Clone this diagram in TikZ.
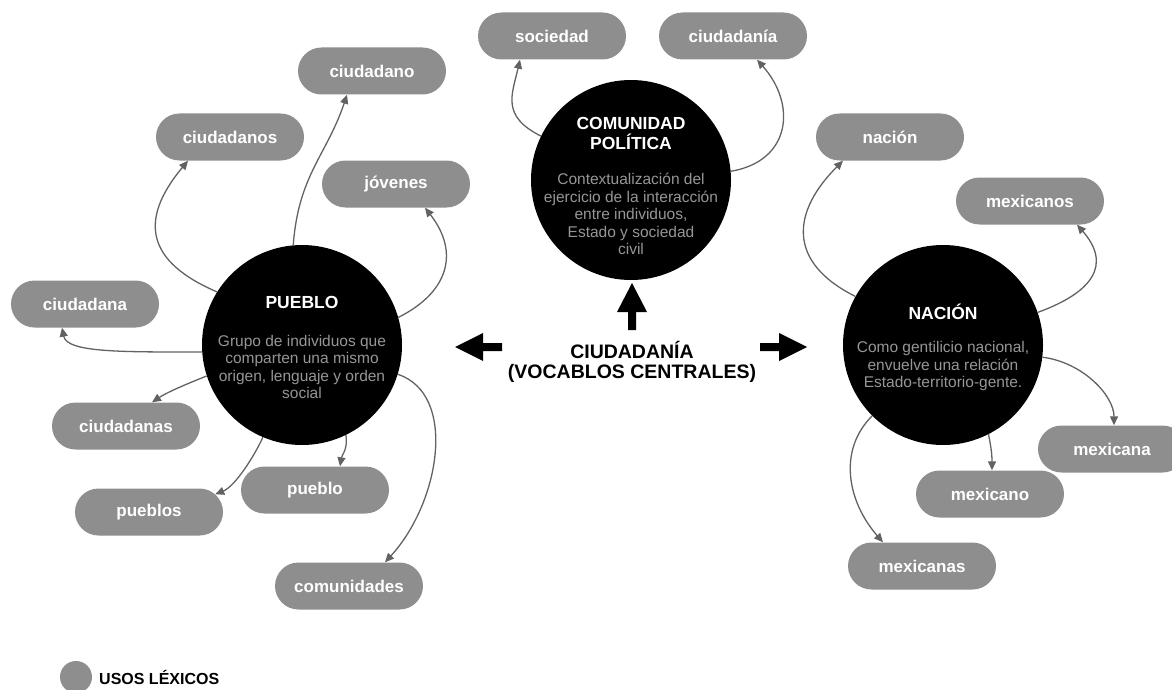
\documentclass[tikz,border=0pt]{standalone}
\usepackage{fontspec}
\setmainfont{Liberation Sans}
\usetikzlibrary{arrows.meta,shapes.misc}
\definecolor{pillgray}{RGB}{142,142,142}
\definecolor{linegray}{RGB}{98,98,98}
\definecolor{bodygray}{RGB}{150,150,150}
\begin{document}
\begin{tikzpicture}[x=1pt,y=-1pt,
  pill/.style={rounded rectangle, fill=pillgray, minimum width=148pt, minimum height=47pt, inner sep=0pt, text=white, font=\fontsize{17}{20}\selectfont\bfseries},
  hub/.style={circle, fill=black, minimum size=200pt, inner sep=0pt},
  ttl/.style={text=white, font=\fontsize{17.5}{20}\selectfont\bfseries, align=center, inner sep=0pt},
  body/.style={text=bodygray, font=\fontsize{15.5}{17.5}\selectfont, align=center, inner sep=0pt},
  conn/.style={draw=linegray, line width=1.3pt, -{Triangle[length=9pt,width=8pt]}},
  blockarrow/.style={fill=black}
]
\useasboundingbox (0,0) rectangle (1172,690);

% hubs
\node[hub] (P) at (302,345) {};
\node[hub] (C) at (631,180) {};
\node[hub] (N) at (943,345) {};

\node[ttl] (Pt) at (302,302) {PUEBLO};
\node[body] (Pb) at (302,367) {Grupo de individuos que\\comparten una mismo\\origen, lenguaje y orden\\social};
\node[ttl] (Ct) at (631,133) {COMUNIDAD\\POLÍTICA};
\node[body] (Cb) at (631,214) {Contextualización del\\ejercicio de la interacción\\entre individuos,\\Estado y sociedad\\civil};
\node[ttl] (Nt) at (943,312) {NACIÓN};
\node[body] (Nb) at (943,366) {Como gentilicio nacional,\\envuelve una relación\\Estado-territorio-gente.};

% pills
\node[pill] (ciudadano) at (372,71) {ciudadano};
\node[pill] (ciudadanos) at (230,137) {ciudadanos};
\node[pill] (jovenes) at (396,184) {jóvenes};
\node[pill] (ciudadana) at (85,304) {ciudadana};
\node[pill] (ciudadanas) at (126,426) {ciudadanas};
\node[pill] (pueblos) at (149,512) {pueblos};
\node[pill] (pueblo) at (315,490) {pueblo};
\node[pill] (comunidades) at (349,586) {comunidades};
\node[pill] (sociedad) at (552,36) {sociedad};
\node[pill] (ciudadania) at (733,36) {ciudadanía};
\node[pill] (nacion) at (890,137) {nación};
\node[pill] (mexicanos) at (1030,201) {mexicanos};
\node[pill] (mexicana) at (1112,449) {mexicana};
\node[pill] (mexicano) at (990,494) {mexicano};
\node[pill] (mexicanas) at (922,566) {mexicanas};

% connectors Pueblo
\draw[conn] (P.95) .. controls +(5,-70) and +(-20,60) .. ([xshift=-25pt]ciudadano.south);
\draw[conn] (P.148) .. controls +(-70,-30) and +(-50,60) .. ([xshift=-42pt]ciudadanos.south);
\draw[conn] (P.16) .. controls +(50,-25) and +(35,45) .. ([xshift=29pt]jovenes.south);
\draw[conn] (P.184) .. controls +(-80,0) and +(5,25) .. ([xshift=-23pt]ciudadana.south);
\draw[conn] (P.198) .. controls +(-20,8) and +(15,-10) .. ([xshift=26pt]ciudadanas.north);
\draw[conn] (P.247) .. controls +(-8,18) and +(20,-8) .. (pueblos.15);
\draw[conn] (P.296) .. controls +(2,15) and +(2,-12) .. ([xshift=25pt]pueblo.north);
\draw[conn] (P.343) .. controls +(60,20) and +(55,-60) .. ([xshift=36pt]comunidades.north);

% connectors Comunidad
\draw[conn] (C.154) .. controls +(-40,-20) and +(-8,35) .. ([xshift=-32pt]sociedad.south);
\draw[conn] (C.5) .. controls +(60,-10) and +(40,45) .. ([xshift=24pt]ciudadania.south);

% connectors Nacion
\draw[conn] (N.151) .. controls +(-70,-35) and +(-50,50) .. ([xshift=-47pt]nacion.south);
\draw[conn] (N.19) .. controls +(55,-20) and +(35,40) .. ([xshift=47pt]mexicanos.south);
\draw[conn] (N.-7) .. controls +(40,5) and +(0,-30) .. ([xshift=2pt]mexicana.north);
\draw[conn] (N.297) .. controls +(3,15) and +(0,-15) .. ([xshift=2pt]mexicano.north);
\draw[conn] (N.225) .. controls +(-35,35) and +(-35,-40) .. ([xshift=-39pt]mexicanas.north);

% central label and block arrows
\node[font=\fontsize{19.5}{20}\selectfont\bfseries, align=center, inner sep=0pt] (center) at (632,362) {CIUDADANÍA\\(VOCABLOS CENTRALES)};
\fill[blockarrow] (632,283) -- (647,312) -- (636,312) -- (636,330) -- (628,330) -- (628,312) -- (617,312) -- cycle;
\fill[blockarrow] (455,347) -- (483,333) -- (483,343) -- (502,343) -- (502,351) -- (483,351) -- (483,361) -- cycle;
\fill[blockarrow] (807,347) -- (779,333) -- (779,343) -- (760,343) -- (760,351) -- (779,351) -- (779,361) -- cycle;

% legend
\node[circle, fill=pillgray, minimum size=32pt, inner sep=0pt] (legdot) at (76,677) {};
\node[anchor=west, font=\fontsize{16}{18}\selectfont\bfseries, inner sep=0pt] (legtxt) at (99,677) {USOS LÉXICOS};
\end{tikzpicture}
\end{document}
